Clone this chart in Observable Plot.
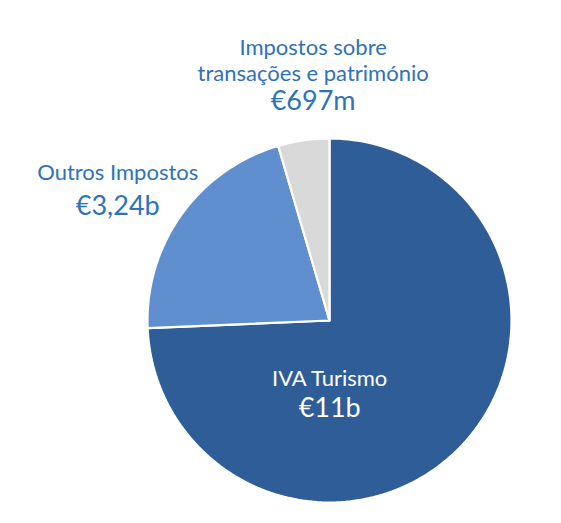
<!DOCTYPE html>
<html>
<head>
<meta charset="utf-8">
<script src="https://cdn.jsdelivr.net/npm/d3@7"></script>
<script src="https://cdn.jsdelivr.net/npm/@observablehq/plot@0.6"></script>
<style>
  html, body { margin: 0; padding: 0; background: #fff; }
  #chart { width: 561px; height: 523px; }
</style>
</head>
<body>
<div id="chart"></div>
<script>
// Data
const categories = ["IVA Turismo", "Outros Impostos", "Impostos sobre transações e património"];
const values = [11400, 3240, 697]; // € millions (IVA slice; labelled €11b)
const valueLabels = ["€11b", "€3,24b", "€697m"];
const nameLines = [["IVA Turismo"], ["Outros Impostos"], ["Impostos sobre", "transações e património"]];
const colors = ["#2F5D98", "#5F8FCE", "#D9D9D9"];

// Pie layout (clockwise from 12 o'clock)
const arcs = d3.pie().sort(null).value(d => d.value)(
  categories.map((c, i) => ({category: c, value: values[i]}))
);

// Sample slice outlines in unit-circle data space
const N = 240;
const outline = [];
arcs.forEach(a => {
  const c = a.data.category;
  outline.push({category: c, x: 0, y: 0});
  const n = Math.max(2, Math.ceil(N * (a.endAngle - a.startAngle) / (2 * Math.PI)));
  for (let k = 0; k <= n; k++) {
    const t = a.startAngle + (a.endAngle - a.startAngle) * k / n;
    outline.push({category: c, x: Math.sin(t), y: Math.cos(t)});
  }
  outline.push({category: c, x: 0, y: 0});
});

// Label anchors derived from slice mid-angles
const labelRadius = [0.42, 1.33, 1.25];
const rows = arcs.map((a, i) => {
  const mid = (a.startAngle + a.endAngle) / 2;
  const r = labelRadius[i];
  return {i, x: Math.sin(mid) * r, y: Math.cos(mid) * r,
          name: nameLines[i].join("\n"), value: valueLabels[i]};
});

const fg = i => i === 0 ? "#ffffff" : "#2E72B8";
const offDx = [-55, -15, 16];
const nameDy = [4, -8, -36];
const valDy = [35, 27, 6];

const plot = Plot.plot({
  width: 561,
  height: 523,
  marginLeft: 147,
  marginRight: 50,
  marginTop: 138,
  marginBottom: 21,
  x: {domain: [-1, 1], axis: null},
  y: {domain: [-1, 1], axis: null},
  color: {domain: categories, range: colors},
  style: {fontFamily: "Lato, 'Open Sans', sans-serif", background: "#fff", overflow: "visible"},
  marks: [
    Plot.line(outline, {x: "x", y: "y", z: "category", fill: "category", stroke: "#fff", strokeWidth: 2.2, strokeLinejoin: "miter", curve: "linear"}),
    ...rows.map(d => Plot.text([d], {
      x: "x", y: "y", text: "name", fill: fg(d.i), fontSize: 22, lineHeight: 1.18,
      textAnchor: "middle", dy: nameDy[d.i], dx: offDx[d.i]
    })),
    ...rows.map(d => Plot.text([d], {
      x: "x", y: "y", text: "value", fill: fg(d.i), fontSize: 27,
      textAnchor: "middle", dy: valDy[d.i], dx: offDx[d.i]
    }))
  ]
});
document.getElementById("chart").appendChild(plot);
</script>
</body>
</html>
